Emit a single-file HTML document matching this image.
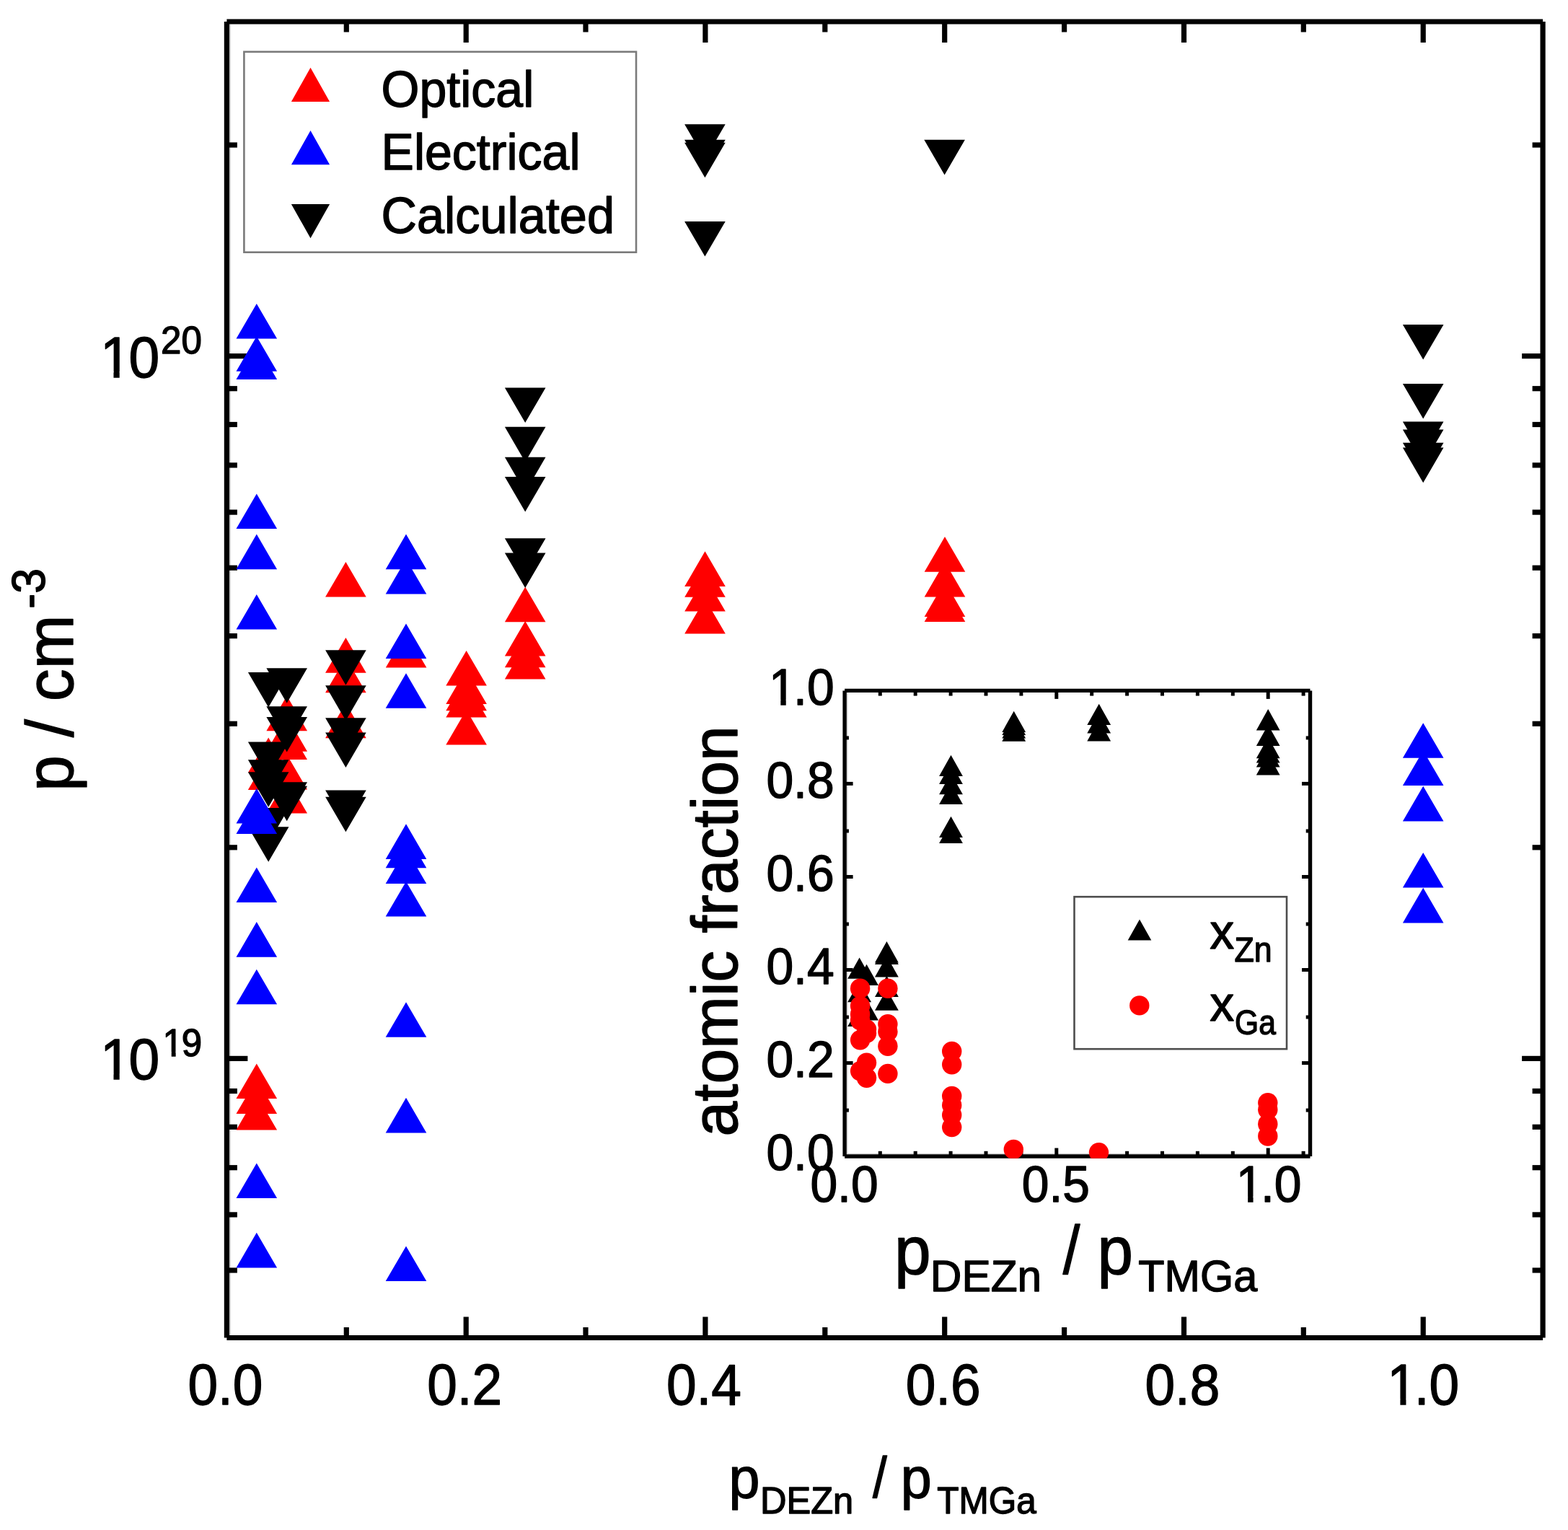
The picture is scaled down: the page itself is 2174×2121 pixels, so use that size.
<!DOCTYPE html>
<html lang="en">
<head>
<meta charset="utf-8">
<title>p vs pDEZn / pTMGa</title>
<style>html,body{margin:0;padding:0;background:#fff}svg{display:block}</style>
</head>
<body>
<svg width="2174" height="2121" viewBox="0 0 2174 2121" font-family='"Liberation Sans", Arial, Helvetica, sans-serif' fill="#000">
<rect width="2174" height="2121" fill="#fff"/>
<defs>
<clipPath id="ic"><rect x="1168.40" y="954.70" width="650.80" height="651.00"/></clipPath>
</defs>
<rect x="318.00" y="33.60" width="1.9" height="1817.30" fill="#cdcdcd"/>
<g stroke="#000" stroke-width="7.2" fill="none">
<line x1="480.3" y1="1854.5" x2="480.3" y2="1840.0"/>
<line x1="480.3" y1="30.0" x2="480.3" y2="44.5"/>
<line x1="646.2" y1="1854.5" x2="646.2" y2="1825.5"/>
<line x1="646.2" y1="30.0" x2="646.2" y2="59.0"/>
<line x1="812.0" y1="1854.5" x2="812.0" y2="1840.0"/>
<line x1="812.0" y1="30.0" x2="812.0" y2="44.5"/>
<line x1="977.9" y1="1854.5" x2="977.9" y2="1825.5"/>
<line x1="977.9" y1="30.0" x2="977.9" y2="59.0"/>
<line x1="1143.8" y1="1854.5" x2="1143.8" y2="1840.0"/>
<line x1="1143.8" y1="30.0" x2="1143.8" y2="44.5"/>
<line x1="1309.7" y1="1854.5" x2="1309.7" y2="1825.5"/>
<line x1="1309.7" y1="30.0" x2="1309.7" y2="59.0"/>
<line x1="1475.6" y1="1854.5" x2="1475.6" y2="1840.0"/>
<line x1="1475.6" y1="30.0" x2="1475.6" y2="44.5"/>
<line x1="1641.5" y1="1854.5" x2="1641.5" y2="1825.5"/>
<line x1="1641.5" y1="30.0" x2="1641.5" y2="59.0"/>
<line x1="1807.3" y1="1854.5" x2="1807.3" y2="1840.0"/>
<line x1="1807.3" y1="30.0" x2="1807.3" y2="44.5"/>
<line x1="1973.2" y1="1854.5" x2="1973.2" y2="1825.5"/>
<line x1="1973.2" y1="30.0" x2="1973.2" y2="59.0"/>
<line x1="314.4" y1="1467.4" x2="343.4" y2="1467.4"/>
<line x1="2139.1" y1="1467.4" x2="2110.1" y2="1467.4"/>
<line x1="314.4" y1="493.6" x2="343.4" y2="493.6"/>
<line x1="2139.1" y1="493.6" x2="2110.1" y2="493.6"/>
<line x1="314.4" y1="1761.0" x2="328.9" y2="1761.0"/>
<line x1="2139.1" y1="1761.0" x2="2124.6" y2="1761.0"/>
<line x1="314.4" y1="1683.9" x2="328.9" y2="1683.9"/>
<line x1="2139.1" y1="1683.9" x2="2124.6" y2="1683.9"/>
<line x1="314.4" y1="1618.7" x2="328.9" y2="1618.7"/>
<line x1="2139.1" y1="1618.7" x2="2124.6" y2="1618.7"/>
<line x1="314.4" y1="1562.3" x2="328.9" y2="1562.3"/>
<line x1="2139.1" y1="1562.3" x2="2124.6" y2="1562.3"/>
<line x1="314.4" y1="1512.5" x2="328.9" y2="1512.5"/>
<line x1="2139.1" y1="1512.5" x2="2124.6" y2="1512.5"/>
<line x1="314.4" y1="1174.8" x2="328.9" y2="1174.8"/>
<line x1="2139.1" y1="1174.8" x2="2124.6" y2="1174.8"/>
<line x1="314.4" y1="1003.3" x2="328.9" y2="1003.3"/>
<line x1="2139.1" y1="1003.3" x2="2124.6" y2="1003.3"/>
<line x1="314.4" y1="881.6" x2="328.9" y2="881.6"/>
<line x1="2139.1" y1="881.6" x2="2124.6" y2="881.6"/>
<line x1="314.4" y1="787.2" x2="328.9" y2="787.2"/>
<line x1="2139.1" y1="787.2" x2="2124.6" y2="787.2"/>
<line x1="314.4" y1="710.1" x2="328.9" y2="710.1"/>
<line x1="2139.1" y1="710.1" x2="2124.6" y2="710.1"/>
<line x1="314.4" y1="644.9" x2="328.9" y2="644.9"/>
<line x1="2139.1" y1="644.9" x2="2124.6" y2="644.9"/>
<line x1="314.4" y1="588.5" x2="328.9" y2="588.5"/>
<line x1="2139.1" y1="588.5" x2="2124.6" y2="588.5"/>
<line x1="314.4" y1="538.7" x2="328.9" y2="538.7"/>
<line x1="2139.1" y1="538.7" x2="2124.6" y2="538.7"/>
<line x1="314.4" y1="201.0" x2="328.9" y2="201.0"/>
<line x1="2139.1" y1="201.0" x2="2124.6" y2="201.0"/>
<line x1="314.4" y1="30.0" x2="2139.1" y2="30.0"/>
<line x1="314.4" y1="1854.5" x2="2139.1" y2="1854.5"/>
<line x1="314.4" y1="30.0" x2="314.4" y2="1854.5"/>
<line x1="2139.1" y1="30.0" x2="2139.1" y2="1854.5"/>
</g>
<text stroke="#000" stroke-width="1.4" stroke-linejoin="round"><tspan x="260.40" y="1947.10" font-size="79" textLength="104.00" lengthAdjust="spacingAndGlyphs">0.0</tspan></text>
<text stroke="#000" stroke-width="1.4" stroke-linejoin="round"><tspan x="592.16" y="1947.10" font-size="79" textLength="104.00" lengthAdjust="spacingAndGlyphs">0.2</tspan></text>
<text stroke="#000" stroke-width="1.4" stroke-linejoin="round"><tspan x="923.93" y="1947.10" font-size="79" textLength="104.00" lengthAdjust="spacingAndGlyphs">0.4</tspan></text>
<text stroke="#000" stroke-width="1.4" stroke-linejoin="round"><tspan x="1255.69" y="1947.10" font-size="79" textLength="104.00" lengthAdjust="spacingAndGlyphs">0.6</tspan></text>
<text stroke="#000" stroke-width="1.4" stroke-linejoin="round"><tspan x="1587.45" y="1947.10" font-size="79" textLength="104.00" lengthAdjust="spacingAndGlyphs">0.8</tspan></text>
<text stroke="#000" stroke-width="1.4" stroke-linejoin="round"><tspan x="1923.33" y="1947.10" font-size="79" textLength="41.61" lengthAdjust="spacingAndGlyphs">1</tspan><tspan x="1960.83" y="1947.10" font-size="79" textLength="62.39" lengthAdjust="spacingAndGlyphs">.0</tspan></text><rect x="1927.31" y="1939.54" width="14.09" height="9.16" fill="#fff"/><rect x="1949.46" y="1939.54" width="13.49" height="9.16" fill="#fff"/>
<text stroke="#000" stroke-width="1.4" stroke-linejoin="round"><tspan x="138.90" y="522.50" font-size="79" textLength="42.71" lengthAdjust="spacingAndGlyphs">1</tspan><tspan x="178.50" y="522.50" font-size="79" textLength="42.71" lengthAdjust="spacingAndGlyphs">0</tspan><tspan x="223.00" y="490.20" font-size="53" textLength="56.77" lengthAdjust="spacingAndGlyphs">20</tspan></text><rect x="143.04" y="514.94" width="14.44" height="9.16" fill="#fff"/><rect x="165.71" y="514.94" width="13.82" height="9.16" fill="#fff"/>
<text stroke="#000" stroke-width="1.4" stroke-linejoin="round"><tspan x="138.90" y="1496.30" font-size="79" textLength="42.71" lengthAdjust="spacingAndGlyphs">1</tspan><tspan x="178.50" y="1496.30" font-size="79" textLength="42.71" lengthAdjust="spacingAndGlyphs">0</tspan><tspan x="225.60" y="1464.00" font-size="53" textLength="28.39" lengthAdjust="spacingAndGlyphs">1</tspan><tspan x="251.69" y="1464.00" font-size="53" textLength="28.39" lengthAdjust="spacingAndGlyphs">9</tspan></text><rect x="143.04" y="1488.74" width="14.44" height="9.16" fill="#fff"/><rect x="165.71" y="1488.74" width="13.82" height="9.16" fill="#fff"/><rect x="227.78" y="1458.40" width="9.93" height="7.20" fill="#fff"/><rect x="243.65" y="1458.40" width="9.52" height="7.20" fill="#fff"/>
<text transform="translate(100.60 1097.00) rotate(-90)" stroke="#000" stroke-width="1.4" stroke-linejoin="round"><tspan x="0.00" y="0.00" font-size="93" textLength="244.60" lengthAdjust="spacingAndGlyphs">p / cm</tspan><tspan x="253.29" y="-38.30" font-size="65" textLength="55.83" lengthAdjust="spacingAndGlyphs">-3</tspan></text>
<text stroke="#000" stroke-width="1.4" stroke-linejoin="round"><tspan x="1010.61" y="2076.20" font-size="79" textLength="42.96" lengthAdjust="spacingAndGlyphs">p</tspan><tspan x="1053.91" y="2097.60" font-size="52" textLength="129.23" lengthAdjust="spacingAndGlyphs">DEZn</tspan> <tspan x="1209.90" y="2076.20" font-size="79" textLength="19.75" lengthAdjust="spacingAndGlyphs">/</tspan> <tspan x="1248.71" y="2076.20" font-size="79" textLength="42.96" lengthAdjust="spacingAndGlyphs">p</tspan><tspan x="1299.15" y="2097.60" font-size="52" textLength="137.60" lengthAdjust="spacingAndGlyphs">TMGa</tspan></text>
<rect x="338.4" y="71.8" width="543.6" height="277.9" fill="#fff" stroke="#7a7a7a" stroke-width="2.6"/>
<polygon points="403.9,141.0 457.1,141.0 430.5,93.7" fill="#ff0000"/>
<polygon points="403.9,228.3 457.1,228.3 430.5,181.0" fill="#0000ff"/>
<polygon points="403.9,283.0 457.1,283.0 430.5,330.3" fill="#000000"/>
<text stroke="#000" stroke-width="1.4" stroke-linejoin="round"><tspan x="528.50" y="148.00" font-size="70" textLength="211.76" lengthAdjust="spacingAndGlyphs">Optical</tspan></text>
<text stroke="#000" stroke-width="1.4" stroke-linejoin="round"><tspan x="528.50" y="235.30" font-size="70" textLength="276.01" lengthAdjust="spacingAndGlyphs">Electrical</tspan></text>
<text stroke="#000" stroke-width="1.4" stroke-linejoin="round"><tspan x="528.50" y="322.60" font-size="70" textLength="323.48" lengthAdjust="spacingAndGlyphs">Calculated</tspan></text>
<polygon points="327.5,1523.1 384.1,1523.1 355.8,1474.5" fill="#ff0000"/>
<polygon points="327.5,1544.1 384.1,1544.1 355.8,1495.5" fill="#ff0000"/>
<polygon points="327.5,1566.4 384.1,1566.4 355.8,1517.8" fill="#ff0000"/>
<polygon points="343.9,1071.2 400.5,1071.2 372.2,1022.6" fill="#ff0000"/>
<polygon points="343.9,1094.9 400.5,1094.9 372.2,1046.3" fill="#ff0000"/>
<polygon points="369.4,1013.2 426.0,1013.2 397.7,964.6" fill="#ff0000"/>
<polygon points="369.4,1041.7 426.0,1041.7 397.7,993.1" fill="#ff0000"/>
<polygon points="369.4,1053.1 426.0,1053.1 397.7,1004.5" fill="#ff0000"/>
<polygon points="369.4,1094.5 426.0,1094.5 397.7,1045.9" fill="#ff0000"/>
<polygon points="369.4,1127.6 426.0,1127.6 397.7,1079.0" fill="#ff0000"/>
<polygon points="451.1,827.5 507.7,827.5 479.4,778.9" fill="#ff0000"/>
<polygon points="451.1,932.7 507.7,932.7 479.4,884.1" fill="#ff0000"/>
<polygon points="451.1,960.3 507.7,960.3 479.4,911.7" fill="#ff0000"/>
<polygon points="451.1,1023.3 507.7,1023.3 479.4,974.7" fill="#ff0000"/>
<polygon points="534.8,925.6 591.4,925.6 563.1,877.0" fill="#ff0000"/>
<polygon points="618.3,950.6 674.9,950.6 646.6,902.0" fill="#ff0000"/>
<polygon points="618.3,976.0 674.9,976.0 646.6,927.4" fill="#ff0000"/>
<polygon points="618.3,985.2 674.9,985.2 646.6,936.6" fill="#ff0000"/>
<polygon points="618.3,994.4 674.9,994.4 646.6,945.8" fill="#ff0000"/>
<polygon points="618.3,1032.5 674.9,1032.5 646.6,983.9" fill="#ff0000"/>
<polygon points="699.9,862.3 756.5,862.3 728.2,813.7" fill="#ff0000"/>
<polygon points="699.9,909.6 756.5,909.6 728.2,861.0" fill="#ff0000"/>
<polygon points="699.9,925.3 756.5,925.3 728.2,876.7" fill="#ff0000"/>
<polygon points="699.9,941.6 756.5,941.6 728.2,893.0" fill="#ff0000"/>
<polygon points="949.2,812.9 1005.8,812.9 977.5,764.3" fill="#ff0000"/>
<polygon points="949.2,827.8 1005.8,827.8 977.5,779.2" fill="#ff0000"/>
<polygon points="949.2,847.5 1005.8,847.5 977.5,798.9" fill="#ff0000"/>
<polygon points="949.2,878.6 1005.8,878.6 977.5,830.0" fill="#ff0000"/>
<polygon points="1281.7,792.7 1338.3,792.7 1310.0,744.1" fill="#ff0000"/>
<polygon points="1281.7,827.4 1338.3,827.4 1310.0,778.8" fill="#ff0000"/>
<polygon points="1281.7,854.9 1338.3,854.9 1310.0,806.3" fill="#ff0000"/>
<polygon points="1281.7,862.0 1338.3,862.0 1310.0,813.4" fill="#ff0000"/>
<polygon points="343.9,931.9 400.5,931.9 372.2,980.5" fill="#000000"/>
<polygon points="343.9,1028.6 400.5,1028.6 372.2,1077.2" fill="#000000"/>
<polygon points="343.9,1053.3 400.5,1053.3 372.2,1101.9" fill="#000000"/>
<polygon points="343.9,1070.2 400.5,1070.2 372.2,1118.8" fill="#000000"/>
<polygon points="343.9,1120.1 400.5,1120.1 372.2,1168.7" fill="#000000"/>
<polygon points="343.9,1146.2 400.5,1146.2 372.2,1194.8" fill="#000000"/>
<polygon points="369.4,926.2 426.0,926.2 397.7,974.8" fill="#000000"/>
<polygon points="369.4,979.2 426.0,979.2 397.7,1027.8" fill="#000000"/>
<polygon points="369.4,993.9 426.0,993.9 397.7,1042.5" fill="#000000"/>
<polygon points="369.4,1084.3 426.0,1084.3 397.7,1132.9" fill="#000000"/>
<polygon points="369.4,1089.7 426.0,1089.7 397.7,1138.3" fill="#000000"/>
<polygon points="451.1,901.2 507.7,901.2 479.4,949.8" fill="#000000"/>
<polygon points="451.1,950.3 507.7,950.3 479.4,998.9" fill="#000000"/>
<polygon points="451.1,995.2 507.7,995.2 479.4,1043.8" fill="#000000"/>
<polygon points="451.1,1015.4 507.7,1015.4 479.4,1064.0" fill="#000000"/>
<polygon points="451.1,1095.5 507.7,1095.5 479.4,1144.1" fill="#000000"/>
<polygon points="451.1,1104.7 507.7,1104.7 479.4,1153.3" fill="#000000"/>
<polygon points="699.9,537.4 756.5,537.4 728.2,586.0" fill="#000000"/>
<polygon points="699.9,591.8 756.5,591.8 728.2,640.4" fill="#000000"/>
<polygon points="699.9,633.8 756.5,633.8 728.2,682.4" fill="#000000"/>
<polygon points="699.9,660.9 756.5,660.9 728.2,709.5" fill="#000000"/>
<polygon points="699.9,746.2 756.5,746.2 728.2,794.8" fill="#000000"/>
<polygon points="699.9,766.4 756.5,766.4 728.2,815.0" fill="#000000"/>
<polygon points="949.1,172.2 1005.7,172.2 977.4,220.8" fill="#000000"/>
<polygon points="949.1,193.8 1005.7,193.8 977.4,242.4" fill="#000000"/>
<polygon points="949.1,197.7 1005.7,197.7 977.4,246.3" fill="#000000"/>
<polygon points="949.1,306.9 1005.7,306.9 977.4,355.5" fill="#000000"/>
<polygon points="1281.3,193.8 1337.9,193.8 1309.6,242.4" fill="#000000"/>
<polygon points="1944.9,450.0 2001.5,450.0 1973.2,498.6" fill="#000000"/>
<polygon points="1944.9,531.9 2001.5,531.9 1973.2,580.5" fill="#000000"/>
<polygon points="1944.9,584.5 2001.5,584.5 1973.2,633.1" fill="#000000"/>
<polygon points="1944.9,595.4 2001.5,595.4 1973.2,644.0" fill="#000000"/>
<polygon points="1944.9,613.7 2001.5,613.7 1973.2,662.3" fill="#000000"/>
<polygon points="1944.9,620.6 2001.5,620.6 1973.2,669.2" fill="#000000"/>
<polygon points="327.5,469.6 384.1,469.6 355.8,421.0" fill="#0000ff"/>
<polygon points="327.5,514.8 384.1,514.8 355.8,466.2" fill="#0000ff"/>
<polygon points="327.5,526.0 384.1,526.0 355.8,477.4" fill="#0000ff"/>
<polygon points="327.5,733.0 384.1,733.0 355.8,684.4" fill="#0000ff"/>
<polygon points="327.5,789.2 384.1,789.2 355.8,740.6" fill="#0000ff"/>
<polygon points="327.5,872.5 384.1,872.5 355.8,823.9" fill="#0000ff"/>
<polygon points="327.5,1141.5 384.1,1141.5 355.8,1092.9" fill="#0000ff"/>
<polygon points="327.5,1156.0 384.1,1156.0 355.8,1107.4" fill="#0000ff"/>
<polygon points="327.5,1251.0 384.1,1251.0 355.8,1202.4" fill="#0000ff"/>
<polygon points="327.5,1326.7 384.1,1326.7 355.8,1278.1" fill="#0000ff"/>
<polygon points="327.5,1392.3 384.1,1392.3 355.8,1343.7" fill="#0000ff"/>
<polygon points="327.5,1661.0 384.1,1661.0 355.8,1612.4" fill="#0000ff"/>
<polygon points="327.5,1757.4 384.1,1757.4 355.8,1708.8" fill="#0000ff"/>
<polygon points="534.7,789.2 591.3,789.2 563.0,740.6" fill="#0000ff"/>
<polygon points="534.7,823.6 591.3,823.6 563.0,775.0" fill="#0000ff"/>
<polygon points="534.7,913.0 591.3,913.0 563.0,864.4" fill="#0000ff"/>
<polygon points="534.7,981.8 591.3,981.8 563.0,933.2" fill="#0000ff"/>
<polygon points="534.7,1190.9 591.3,1190.9 563.0,1142.3" fill="#0000ff"/>
<polygon points="534.7,1203.2 591.3,1203.2 563.0,1154.6" fill="#0000ff"/>
<polygon points="534.7,1225.0 591.3,1225.0 563.0,1176.4" fill="#0000ff"/>
<polygon points="534.7,1270.5 591.3,1270.5 563.0,1221.9" fill="#0000ff"/>
<polygon points="534.7,1437.8 591.3,1437.8 563.0,1389.2" fill="#0000ff"/>
<polygon points="534.7,1570.4 591.3,1570.4 563.0,1521.8" fill="#0000ff"/>
<polygon points="534.7,1776.0 591.3,1776.0 563.0,1727.4" fill="#0000ff"/>
<polygon points="1944.9,1050.8 2001.5,1050.8 1973.2,1002.2" fill="#0000ff"/>
<polygon points="1944.9,1089.1 2001.5,1089.1 1973.2,1040.5" fill="#0000ff"/>
<polygon points="1944.9,1138.4 2001.5,1138.4 1973.2,1089.8" fill="#0000ff"/>
<polygon points="1944.9,1230.5 2001.5,1230.5 1973.2,1181.9" fill="#0000ff"/>
<polygon points="1944.9,1279.4 2001.5,1279.4 1973.2,1230.8" fill="#0000ff"/>
<rect x="1173.80" y="960.10" width="1.6" height="640.20" fill="#cfcfcf"/>
<rect x="1173.80" y="1598.90" width="640.00" height="1.4" fill="#cfcfcf"/>
<g stroke="#000" stroke-width="5" fill="none">
<line x1="1220.3" y1="1603.0" x2="1220.3" y2="1595.8"/>
<line x1="1220.3" y1="957.4" x2="1220.3" y2="964.6"/>
<line x1="1269.2" y1="1603.0" x2="1269.2" y2="1595.8"/>
<line x1="1269.2" y1="957.4" x2="1269.2" y2="964.6"/>
<line x1="1318.1" y1="1603.0" x2="1318.1" y2="1595.8"/>
<line x1="1318.1" y1="957.4" x2="1318.1" y2="964.6"/>
<line x1="1367.0" y1="1603.0" x2="1367.0" y2="1595.8"/>
<line x1="1367.0" y1="957.4" x2="1367.0" y2="964.6"/>
<line x1="1415.9" y1="1603.0" x2="1415.9" y2="1595.8"/>
<line x1="1415.9" y1="957.4" x2="1415.9" y2="964.6"/>
<line x1="1464.8" y1="1603.0" x2="1464.8" y2="1591.5"/>
<line x1="1464.8" y1="957.4" x2="1464.8" y2="968.9"/>
<line x1="1513.7" y1="1603.0" x2="1513.7" y2="1595.8"/>
<line x1="1513.7" y1="957.4" x2="1513.7" y2="964.6"/>
<line x1="1562.6" y1="1603.0" x2="1562.6" y2="1595.8"/>
<line x1="1562.6" y1="957.4" x2="1562.6" y2="964.6"/>
<line x1="1611.5" y1="1603.0" x2="1611.5" y2="1595.8"/>
<line x1="1611.5" y1="957.4" x2="1611.5" y2="964.6"/>
<line x1="1660.4" y1="1603.0" x2="1660.4" y2="1595.8"/>
<line x1="1660.4" y1="957.4" x2="1660.4" y2="964.6"/>
<line x1="1709.3" y1="1603.0" x2="1709.3" y2="1595.8"/>
<line x1="1709.3" y1="957.4" x2="1709.3" y2="964.6"/>
<line x1="1758.2" y1="1603.0" x2="1758.2" y2="1591.5"/>
<line x1="1758.2" y1="957.4" x2="1758.2" y2="968.9"/>
<line x1="1807.1" y1="1603.0" x2="1807.1" y2="1595.8"/>
<line x1="1807.1" y1="957.4" x2="1807.1" y2="964.6"/>
<line x1="1171.1" y1="1539.1" x2="1176.9" y2="1539.1"/>
<line x1="1816.5" y1="1539.1" x2="1810.7" y2="1539.1"/>
<line x1="1171.1" y1="1473.6" x2="1182.6" y2="1473.6"/>
<line x1="1816.5" y1="1473.6" x2="1805.0" y2="1473.6"/>
<line x1="1171.1" y1="1410.0" x2="1176.9" y2="1410.0"/>
<line x1="1816.5" y1="1410.0" x2="1810.7" y2="1410.0"/>
<line x1="1171.1" y1="1344.5" x2="1182.6" y2="1344.5"/>
<line x1="1816.5" y1="1344.5" x2="1805.0" y2="1344.5"/>
<line x1="1171.1" y1="1281.0" x2="1176.9" y2="1281.0"/>
<line x1="1816.5" y1="1281.0" x2="1810.7" y2="1281.0"/>
<line x1="1171.1" y1="1215.5" x2="1182.6" y2="1215.5"/>
<line x1="1816.5" y1="1215.5" x2="1805.0" y2="1215.5"/>
<line x1="1171.1" y1="1152.0" x2="1176.9" y2="1152.0"/>
<line x1="1816.5" y1="1152.0" x2="1810.7" y2="1152.0"/>
<line x1="1171.1" y1="1086.4" x2="1182.6" y2="1086.4"/>
<line x1="1816.5" y1="1086.4" x2="1805.0" y2="1086.4"/>
<line x1="1171.1" y1="1022.9" x2="1176.9" y2="1022.9"/>
<line x1="1816.5" y1="1022.9" x2="1810.7" y2="1022.9"/>
</g>
<g stroke="#000" stroke-width="5.4" fill="none">
<line x1="1171.1" y1="957.4" x2="1816.5" y2="957.4"/>
<line x1="1171.1" y1="1603.0" x2="1816.5" y2="1603.0"/>
<line x1="1171.1" y1="957.4" x2="1171.1" y2="1603.0"/>
<line x1="1816.5" y1="957.4" x2="1816.5" y2="1603.0"/>
</g>
<rect x="1489.5" y="1243.2" width="294.5" height="211" fill="#fff" stroke="#4d4d4d" stroke-width="2.6"/>
<polygon points="1563.7,1303.4 1596.3,1303.4 1580.0,1274.6" fill="#000000"/>
<circle cx="1579.8" cy="1393.9" r="13.7" fill="#ff0000"/>
<text stroke="#000" stroke-width="1.4" stroke-linejoin="round"><tspan x="1677.60" y="1315.10" font-size="69" textLength="33.53" lengthAdjust="spacingAndGlyphs">x</tspan><tspan x="1711.60" y="1333.40" font-size="48" textLength="52.09" lengthAdjust="spacingAndGlyphs">Zn</tspan></text>
<text stroke="#000" stroke-width="1.4" stroke-linejoin="round"><tspan x="1677.60" y="1414.70" font-size="69" textLength="33.53" lengthAdjust="spacingAndGlyphs">x</tspan><tspan x="1712.00" y="1433.50" font-size="48" textLength="56.86" lengthAdjust="spacingAndGlyphs">Ga</tspan></text>
<g clip-path="url(#ic)">
<polygon points="1175.2,1356.7 1208.0,1356.7 1191.6,1327.4" fill="#000000"/>
<polygon points="1175.2,1389.2 1208.0,1389.2 1191.6,1359.9" fill="#000000"/>
<polygon points="1175.2,1422.9 1208.0,1422.9 1191.6,1393.6" fill="#000000"/>
<polygon points="1185.1,1366.1 1217.9,1366.1 1201.5,1336.8" fill="#000000"/>
<polygon points="1185.1,1414.5 1217.9,1414.5 1201.5,1385.2" fill="#000000"/>
<polygon points="1213.0,1334.4 1245.8,1334.4 1229.4,1305.1" fill="#000000"/>
<polygon points="1213.0,1337.1 1245.8,1337.1 1229.4,1307.8" fill="#000000"/>
<polygon points="1213.0,1354.6 1245.8,1354.6 1229.4,1325.3" fill="#000000"/>
<polygon points="1213.0,1382.0 1245.8,1382.0 1229.4,1352.7" fill="#000000"/>
<polygon points="1213.0,1400.8 1245.8,1400.8 1229.4,1371.5" fill="#000000"/>
<polygon points="1302.1,1076.0 1334.9,1076.0 1318.5,1046.7" fill="#000000"/>
<polygon points="1302.1,1087.1 1334.9,1087.1 1318.5,1057.8" fill="#000000"/>
<polygon points="1302.1,1101.2 1334.9,1101.2 1318.5,1071.9" fill="#000000"/>
<polygon points="1302.1,1114.9 1334.9,1114.9 1318.5,1085.6" fill="#000000"/>
<polygon points="1302.1,1161.1 1334.9,1161.1 1318.5,1131.8" fill="#000000"/>
<polygon points="1302.1,1169.1 1334.9,1169.1 1318.5,1139.8" fill="#000000"/>
<polygon points="1389.3,1015.0 1422.1,1015.0 1405.7,985.7" fill="#000000"/>
<polygon points="1389.3,1019.0 1422.1,1019.0 1405.7,989.7" fill="#000000"/>
<polygon points="1389.3,1023.5 1422.1,1023.5 1405.7,994.2" fill="#000000"/>
<polygon points="1389.3,1027.7 1422.1,1027.7 1405.7,998.4" fill="#000000"/>
<polygon points="1507.3,1005.0 1540.1,1005.0 1523.7,975.7" fill="#000000"/>
<polygon points="1507.3,1016.6 1540.1,1016.6 1523.7,987.3" fill="#000000"/>
<polygon points="1507.3,1027.4 1540.1,1027.4 1523.7,998.1" fill="#000000"/>
<polygon points="1741.8,1012.4 1774.6,1012.4 1758.2,983.1" fill="#000000"/>
<polygon points="1741.8,1034.0 1774.6,1034.0 1758.2,1004.7" fill="#000000"/>
<polygon points="1741.8,1051.3 1774.6,1051.3 1758.2,1022.0" fill="#000000"/>
<polygon points="1741.8,1057.6 1774.6,1057.6 1758.2,1028.3" fill="#000000"/>
<polygon points="1741.8,1063.4 1774.6,1063.4 1758.2,1034.1" fill="#000000"/>
<polygon points="1741.8,1074.4 1774.6,1074.4 1758.2,1045.1" fill="#000000"/>
<circle cx="1192.6" cy="1370.3" r="13.7" fill="#ff0000"/>
<circle cx="1192.6" cy="1394.5" r="13.7" fill="#ff0000"/>
<circle cx="1192.6" cy="1406.0" r="13.7" fill="#ff0000"/>
<circle cx="1192.6" cy="1414.5" r="13.7" fill="#ff0000"/>
<circle cx="1192.6" cy="1441.8" r="13.7" fill="#ff0000"/>
<circle cx="1192.6" cy="1484.8" r="13.7" fill="#ff0000"/>
<circle cx="1201.5" cy="1427.0" r="13.7" fill="#ff0000"/>
<circle cx="1201.5" cy="1432.3" r="13.7" fill="#ff0000"/>
<circle cx="1201.5" cy="1473.3" r="13.7" fill="#ff0000"/>
<circle cx="1201.5" cy="1494.3" r="13.7" fill="#ff0000"/>
<circle cx="1230.9" cy="1370.3" r="13.7" fill="#ff0000"/>
<circle cx="1230.9" cy="1419.7" r="13.7" fill="#ff0000"/>
<circle cx="1230.9" cy="1430.2" r="13.7" fill="#ff0000"/>
<circle cx="1230.9" cy="1450.2" r="13.7" fill="#ff0000"/>
<circle cx="1230.9" cy="1488.4" r="13.7" fill="#ff0000"/>
<circle cx="1319.7" cy="1457.5" r="13.7" fill="#ff0000"/>
<circle cx="1319.7" cy="1475.8" r="13.7" fill="#ff0000"/>
<circle cx="1319.7" cy="1519.5" r="13.7" fill="#ff0000"/>
<circle cx="1319.7" cy="1532.1" r="13.7" fill="#ff0000"/>
<circle cx="1319.7" cy="1545.8" r="13.7" fill="#ff0000"/>
<circle cx="1319.7" cy="1562.6" r="13.7" fill="#ff0000"/>
<circle cx="1405.3" cy="1593.4" r="13.7" fill="#ff0000"/>
<circle cx="1523.5" cy="1597.6" r="13.7" fill="#ff0000"/>
<circle cx="1757.8" cy="1528.8" r="13.7" fill="#ff0000"/>
<circle cx="1757.8" cy="1538.2" r="13.7" fill="#ff0000"/>
<circle cx="1757.8" cy="1558.2" r="13.7" fill="#ff0000"/>
<circle cx="1757.8" cy="1575.0" r="13.7" fill="#ff0000"/>
</g>
<text stroke="#000" stroke-width="1.4" stroke-linejoin="round"><tspan x="1123.40" y="1665.70" font-size="69.5" textLength="94.20" lengthAdjust="spacingAndGlyphs">0.0</tspan></text>
<text stroke="#000" stroke-width="1.4" stroke-linejoin="round"><tspan x="1416.80" y="1665.70" font-size="69.5" textLength="94.20" lengthAdjust="spacingAndGlyphs">0.5</tspan></text>
<text stroke="#000" stroke-width="1.4" stroke-linejoin="round"><tspan x="1713.81" y="1665.70" font-size="69.5" textLength="37.69" lengthAdjust="spacingAndGlyphs">1</tspan><tspan x="1747.89" y="1665.70" font-size="69.5" textLength="56.51" lengthAdjust="spacingAndGlyphs">.0</tspan></text><rect x="1717.26" y="1658.85" width="12.86" height="8.45" fill="#fff"/><rect x="1737.55" y="1658.85" width="12.32" height="8.45" fill="#fff"/>
<text stroke="#000" stroke-width="1.4" stroke-linejoin="round"><tspan x="1062.40" y="1622.30" font-size="69.5" textLength="94.20" lengthAdjust="spacingAndGlyphs">0.0</tspan></text>
<text stroke="#000" stroke-width="1.4" stroke-linejoin="round"><tspan x="1062.40" y="1493.28" font-size="69.5" textLength="94.20" lengthAdjust="spacingAndGlyphs">0.2</tspan></text>
<text stroke="#000" stroke-width="1.4" stroke-linejoin="round"><tspan x="1062.40" y="1364.26" font-size="69.5" textLength="94.20" lengthAdjust="spacingAndGlyphs">0.4</tspan></text>
<text stroke="#000" stroke-width="1.4" stroke-linejoin="round"><tspan x="1062.40" y="1235.24" font-size="69.5" textLength="94.20" lengthAdjust="spacingAndGlyphs">0.6</tspan></text>
<text stroke="#000" stroke-width="1.4" stroke-linejoin="round"><tspan x="1062.40" y="1106.22" font-size="69.5" textLength="94.20" lengthAdjust="spacingAndGlyphs">0.8</tspan></text>
<text stroke="#000" stroke-width="1.4" stroke-linejoin="round"><tspan x="1066.01" y="977.20" font-size="69.5" textLength="37.69" lengthAdjust="spacingAndGlyphs">1</tspan><tspan x="1100.09" y="977.20" font-size="69.5" textLength="56.51" lengthAdjust="spacingAndGlyphs">.0</tspan></text><rect x="1069.46" y="970.35" width="12.86" height="8.45" fill="#fff"/><rect x="1089.75" y="970.35" width="12.32" height="8.45" fill="#fff"/>
<text transform="translate(1021.60 1291.00) rotate(-90)" stroke="#000" stroke-width="1.4" stroke-linejoin="round"><tspan x="-284.58" y="0.00" font-size="89.5" textLength="569.17" lengthAdjust="spacingAndGlyphs">atomic fraction</tspan></text>
<text stroke="#000" stroke-width="1.4" stroke-linejoin="round"><tspan x="1240.08" y="1766.00" font-size="94" textLength="50.70" lengthAdjust="spacingAndGlyphs">p</tspan><tspan x="1289.83" y="1790.40" font-size="62" textLength="154.36" lengthAdjust="spacingAndGlyphs">DEZn</tspan> <tspan x="1473.70" y="1766.00" font-size="94" textLength="23.60" lengthAdjust="spacingAndGlyphs">/</tspan> <tspan x="1521.42" y="1766.00" font-size="94" textLength="49.48" lengthAdjust="spacingAndGlyphs">p</tspan><tspan x="1578.34" y="1790.40" font-size="62" textLength="164.90" lengthAdjust="spacingAndGlyphs">TMGa</tspan></text>
</svg>
</body>
</html>
